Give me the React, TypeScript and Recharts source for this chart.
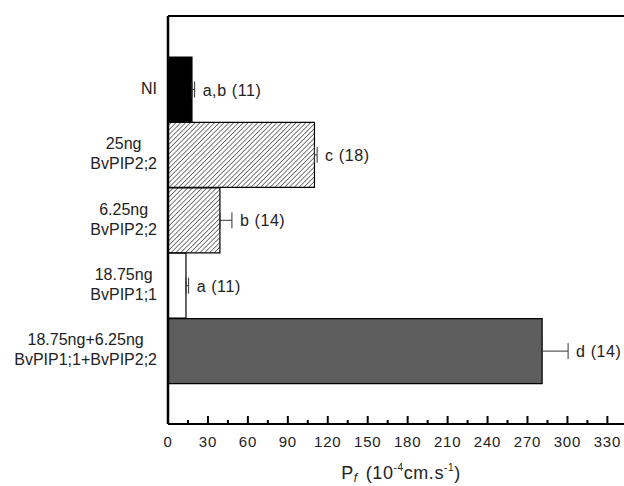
import React from 'react';
import { BarChart, Bar, XAxis, YAxis, Cell, ErrorBar, LabelList } from 'recharts';

// treatments, top to bottom
const categories = ['NI', '25ng\nBvPIP2;2', '6.25ng\nBvPIP2;2', '18.75ng\nBvPIP1;1', '18.75ng+6.25ng\nBvPIP1;1+BvPIP2;2'];
const pfValues = [18, 110, 39, 13.5, 281];
const pfErrors = [2, 2, 9, 2, 19.5];
const groupLabels = ['a,b (11)', 'c (18)', 'b (14)', 'a (11)', 'd (14)'];
const barFills = ['#000000', 'url(#hatch)', 'url(#hatch)', '#ffffff', '#5e5e5e'];
const xTicks = [0, 15, 30, 45, 60, 75, 90, 105, 120, 135, 150, 165, 180, 195, 210, 225, 240, 255, 270, 285, 300, 315, 330, 345];

const data = categories.map((name, i) => ({
  name,
  value: pfValues[i],
  err: [0, pfErrors[i]],
  errHi: pfErrors[i],
  label: groupLabels[i],
}));

const FONT = '"Liberation Sans", Arial, Helvetica, sans-serif';

// the figure runs right to the page edges, so drop the default body margin
if (typeof document !== 'undefined') {
  document.body.style.margin = '0';
  document.body.style.overflow = 'hidden';
}

// rough text width, used to centre the two-line category labels as a block
let ctx: CanvasRenderingContext2D | null = null;
const textWidth = (s: string, size: number) => {
  if (!ctx) ctx = document.createElement('canvas').getContext('2d');
  if (!ctx) return s.length * size * 0.55;
  ctx.font = `${size}px "Liberation Sans", Arial, sans-serif`;
  return ctx.measureText(s).width;
};

const XTick = (props: any) => {
  const { x, y, payload } = props;
  const major = payload.value % 30 === 0;
  return (
    <g>
      <line x1={x} x2={x} y1={y} y2={y - (major ? 8 : 4)} stroke="#000" strokeWidth={2} />
      {major && (
        <text x={x} y={y + 23} textAnchor="middle" fontSize={15} letterSpacing={0.8} fill="#222" fontFamily={FONT}>
          {payload.value}
        </text>
      )}
    </g>
  );
};

const YTick = (props: any) => {
  const { x, y, payload } = props;
  const lines = String(payload.value).split('\n');
  const lineH = 20;
  const maxW = Math.max(...lines.map((l) => textWidth(l, 16)));
  const cx = x - maxW / 2;
  const start = y - ((lines.length - 1) * lineH) / 2 + 4;
  return (
    <text textAnchor="middle" fontSize={16} fill="#222" fontFamily={FONT}>
      {lines.map((l, i) => (
        <tspan key={i} x={cx} y={start + i * lineH}>{l}</tspan>
      ))}
    </text>
  );
};

const GroupLabel = (props: any) => {
  const { x, y, width, height, index } = props;
  const d = data[index];
  const errPx = (d.errHi * width) / d.value;
  return (
    <text x={x + width + errPx + 8} y={y + height / 2 + 6} fontSize={16} letterSpacing={0.6} fill="#222" fontFamily={FONT}>
      {d.label}
    </text>
  );
};

const AxisTitle = (props: any) => {
  const vb = props.viewBox || {};
  return (
    <text x={vb.x + vb.width / 2} y={vb.y + 55} textAnchor="middle" fontSize={18} letterSpacing={0.6} fill="#222" fontFamily={FONT}>
      <tspan>P</tspan>
      <tspan fontSize={12} fontStyle="italic" dy={3}>f</tspan>
      <tspan dy={-3} dx={8}>(10</tspan>
      <tspan fontSize={10} dy={-8}>-4</tspan>
      <tspan dy={8}>cm.s</tspan>
      <tspan fontSize={10} dy={-8}>-1</tspan>
      <tspan dy={8}>)</tspan>
    </text>
  );
};

export default function App() {
  return (
    <div style={{ width: 624, height: 486, overflow: 'hidden', background: '#fff' }}>
      <BarChart
        width={648}
        height={486}
        data={data}
        layout="vertical"
        margin={{ top: 14, right: 14, bottom: 0, left: 0 }}
        barCategoryGap={0}
        barGap={0}
      >
        <defs>
          <pattern id="hatch" width="3.4" height="3.4" patternUnits="userSpaceOnUse" patternTransform="rotate(45)">
            <rect width="3.4" height="3.4" fill="#ffffff" />
            <line x1="0" y1="0" x2="0" y2="3.4" stroke="#333" strokeWidth={1.3} />
          </pattern>
        </defs>
        <XAxis
          type="number"
          domain={[0, 350]}
          ticks={xTicks}
          interval={0}
          tick={<XTick />}
          tickLine={false}
          tickSize={0}
          tickMargin={0}
          axisLine={{ stroke: '#000', strokeWidth: 2 }}
          height={62}
          label={<AxisTitle />}
        />
        <XAxis
          xAxisId="top"
          orientation="top"
          type="number"
          domain={[0, 350]}
          tick={false}
          tickLine={false}
          height={2}
          axisLine={{ stroke: '#000', strokeWidth: 2 }}
        />
        <YAxis
          type="category"
          dataKey="name"
          width={168}
          interval={0}
          tick={<YTick />}
          tickLine={false}
          tickSize={0}
          tickMargin={11}
          axisLine={{ stroke: '#000', strokeWidth: 2.5 }}
          padding={{ top: 41, bottom: 40 }}
        />
        <Bar dataKey="value" isAnimationActive={false} stroke="#000" strokeWidth={1.2}>
          {data.map((d, i) => (
            <Cell key={d.name} fill={barFills[i]} />
          ))}
          <ErrorBar dataKey="err" direction="x" width={8} stroke="#333" strokeWidth={1} />
          <LabelList dataKey="label" content={<GroupLabel />} />
        </Bar>
      </BarChart>
    </div>
  );
}
